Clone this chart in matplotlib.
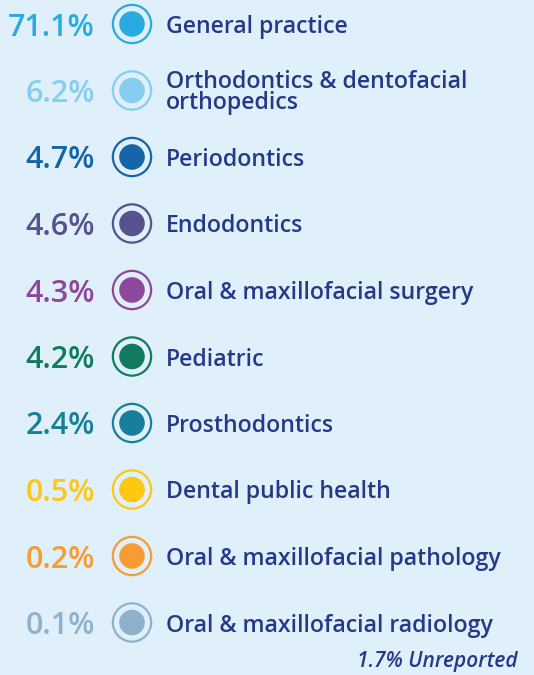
import matplotlib
matplotlib.use("Agg")
from matplotlib import pyplot as plt

# data
pct_values = [71.1, 6.2, 4.7, 4.6, 4.3, 4.2, 2.4, 0.5, 0.2, 0.1]
specialties = ["General practice",
               "Orthodontics & dentofacial\northopedics",
               "Periodontics",
               "Endodontics",
               "Oral & maxillofacial surgery",
               "Pediatric",
               "Prosthodontics",
               "Dental public health",
               "Oral & maxillofacial pathology",
               "Oral & maxillofacial radiology"]
colors_hex = ["#29abe2", "#87cdef", "#1565a8", "#56528f", "#8e489b",
              "#127a5e", "#177f99", "#fdc712", "#f79c35", "#8fb1cc"]
unreported = 1.7

bg = "#dff0fb"
navy = "#24398a"

plt.rcParams['font.family'] = ['Open Sans', 'DejaVu Sans']

fig = plt.figure(figsize=(5.34, 6.75), dpi=100)
fig.patch.set_facecolor(bg)
ax = fig.add_axes([0, 0, 1, 1])
ax.set_facecolor(bg)
ax.set_xlim(0, 534)
row_h = 66.5
ax.set_ylim((675 - 24) / row_h, -24 / row_h)
ax.axis('off')

rows = list(range(len(pct_values)))
ax.scatter([132] * len(rows), rows, s=760, facecolors='none',
           edgecolors=colors_hex, linewidths=1.6, zorder=2)
ax.scatter([132] * len(rows), rows, s=340, c=colors_hex, linewidths=0, zorder=3)

for i, (v, lab, c) in enumerate(zip(pct_values, specialties, colors_hex)):
    ax.text(95, i, "{0}%".format(v), ha='right', va='center_baseline',
            fontsize=22, fontweight='semibold', color=c)
    ax.text(166, i, lab, ha='left', va='center_baseline', fontsize=16.7,
            fontweight='semibold', color=navy, linespacing=0.85)

ax.text(518, (662 - 24) / row_h, "{0}% Unreported".format(unreported),
        ha='right', va='center', fontsize=15, fontweight='semibold',
        fontstyle='italic', color=navy)

fig.savefig("out.png", dpi=100, facecolor=bg)
